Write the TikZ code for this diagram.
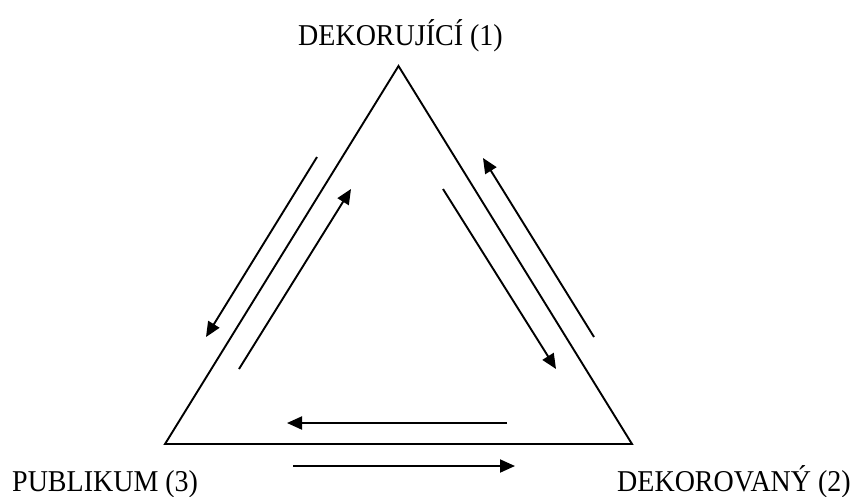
\documentclass[tikz,border=0pt]{standalone}
\usepackage{fontspec}
\usepackage{graphicx}
\setmainfont{Liberation Serif}
\usetikzlibrary{arrows.meta}
\newcommand{\talltxt}[1]{\scalebox{1}[1.08]{#1}}
\begin{document}
\begin{tikzpicture}[x=1pt,y=-1pt,
  edge/.style={line width=1.9pt,line join=miter},
  flow/.style={line width=1.9pt,-{Triangle[length=15pt,width=13pt]}},
  lbl/.style={anchor=base,inner sep=0pt,font=\fontsize{28}{34}\selectfont}]
\useasboundingbox (0,0) rectangle (853,496);
% triangle vertices
\coordinate (A) at (398.5,66);
\coordinate (B) at (165,444);
\coordinate (C) at (632,444);
\draw[edge] (A) -- (B) -- (C) -- cycle;
% arrow endpoints
\coordinate (lo1) at (317,157);
\coordinate (lo2) at (206,337);
\coordinate (li1) at (239,369);
\coordinate (li2) at (351,189);
\coordinate (ri1) at (443,189);
\coordinate (ri2) at (556,369);
\coordinate (ro1) at (594,337);
\coordinate (ro2) at (483,158);
\coordinate (bi1) at (507,423);
\coordinate (bi2) at (287,423);
\coordinate (bo1) at (293,466);
\coordinate (bo2) at (515,466);
\draw[flow] (lo1) -- (lo2);
\draw[flow] (li1) -- (li2);
\draw[flow] (ri1) -- (ri2);
\draw[flow] (ro1) -- (ro2);
\draw[flow] (bi1) -- (bi2);
\draw[flow] (bo1) -- (bo2);
% labels
\node[lbl] (top) at (400.5,45) {\talltxt{DEKORUJÍCÍ (1)}};
\node[lbl,anchor=base west] (pub) at (12,491) {\talltxt{PUBLIKUM (3)}};
\node[lbl,anchor=base east] (dek) at (851,491) {\talltxt{DEKOROVANÝ (2)}};
\end{tikzpicture}
\end{document}
